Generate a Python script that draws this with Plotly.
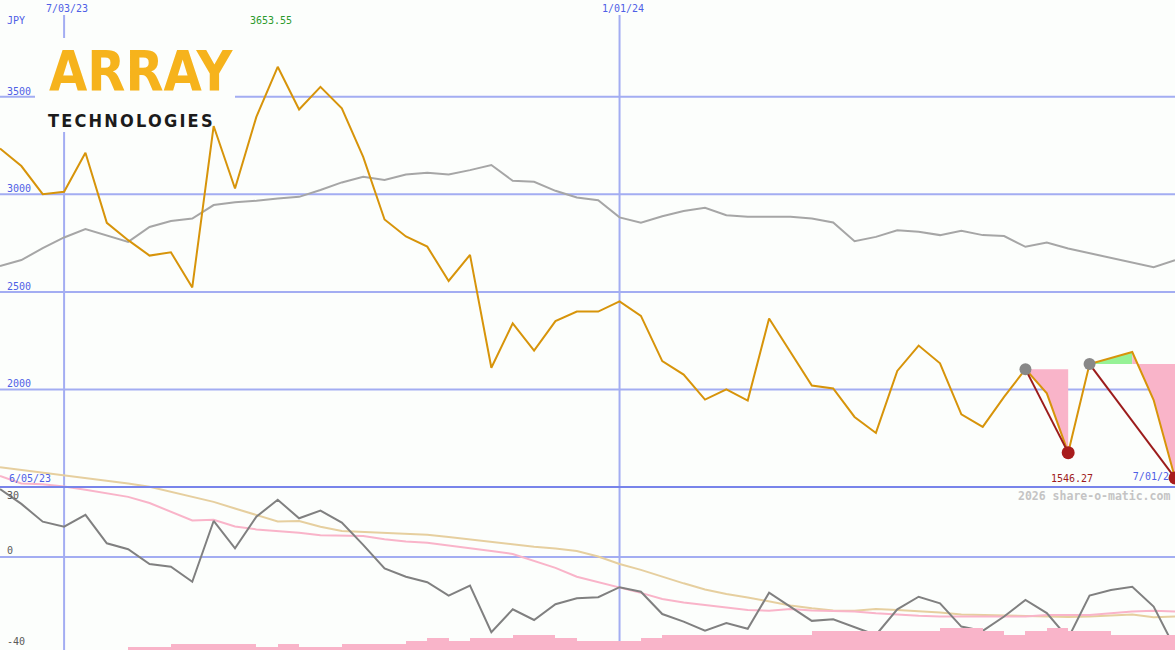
import pandas as pd
import plotly.graph_objects as go

# ---------------- data ----------------
dates = pd.date_range("2023-06-12", "2024-07-01", freq="W-MON")   # weekly closes

price = [3235, 3145, 3001, 3013, 3213, 2854, 2765, 2686, 2703, 2523,
         3350, 3030, 3397, 3653.55, 3435, 3551, 3441, 3192, 2871, 2784,
         2732, 2556, 2690, 2111, 2339, 2199, 2350, 2399, 2399, 2451,
         2377, 2145, 2076, 1948, 2001, 1943, 2364, 2194, 2020, 2005,
         1859, 1777, 2095, 2225, 2134, 1872, 1808, 1962, 2104, 1980,
         1676, 2130, 2160, 2192, 1946, 1546.27]

index_line = [2632, 2663, 2724, 2779, 2822, 2787, 2756, 2833, 2863, 2876,
              2945, 2959, 2967, 2979, 2987, 3022, 3061, 3090, 3073, 3102,
              3110, 3102, 3124, 3150, 3069, 3064, 3018, 2984, 2970, 2882,
              2854, 2888, 2915, 2931, 2893, 2885, 2885, 2885, 2876, 2856,
              2760, 2782, 2816, 2808, 2791, 2813, 2791, 2786, 2731, 2753,
              2722, 2698, 2673, 2652, 2627, 2663]

momentum = [29.8, 23.3, 15.5, 13.3, 18.5, 6.0, 3.4, -3.1, -4.3, -10.9,
            15.8, 3.8, 17.7, 25.1, 17.0, 20.4, 15.1, 5.3, -5.0, -8.7,
            -11.1, -17.0, -12.6, -33.1, -23.0, -27.7, -20.8, -18.2, -17.7, -13.3,
            -15.3, -25.1, -28.4, -32.4, -29.1, -31.6, -15.7, -22.0, -28.1, -27.4,
            -30.8, -34.3, -23.0, -17.5, -20.4, -30.6, -32.5, -26.2, -18.9, -24.7,
            -35.7, -17.0, -14.5, -13.1, -21.8, -40.1]

ma_slow = [39.4, 38.2, 37.1, 36.0, 34.9, 33.6, 32.3, 30.8, 28.6, 26.6,
           24.2, 21.3, 18.5, 15.6, 15.8, 13.3, 11.4, 11.0, 10.3, 9.9,
           9.7, 8.8, 7.7, 6.8, 5.7, 4.5, 3.7, 2.6, 0.2, -3.1,
           -5.7, -8.8, -11.6, -14.3, -16.3, -17.8, -19.6, -21.3, -22.6, -23.5,
           -23.7, -22.9, -23.3, -23.7, -24.4, -25.3, -25.5, -25.7, -25.9, -26.4,
           -26.4, -26.2, -25.7, -25.3, -26.5, -26.2]

ma_fast = [35.6, 32.3, 31.9, 31.0, 29.5, 28.1, 26.4, 23.7, 19.8, 16.0,
           16.3, 13.4, 12.1, 11.4, 10.6, 9.5, 9.3, 9.2, 7.8, 6.8,
           6.2, 5.1, 4.0, 2.6, 1.3, -1.8, -4.8, -8.7, -11.0, -13.3,
           -15.8, -18.5, -20.0, -21.1, -22.2, -23.3, -23.6, -22.9, -23.5, -23.7,
           -24.0, -24.8, -25.5, -25.9, -26.2, -26.2, -26.2, -26.2, -26.2, -25.5,
           -25.5, -25.5, -24.7, -24.0, -23.7, -24.0]

volume = [0, 0, 0, 0, 0, 0, 2.7, 2.7, 6, 6,
          6, 6, 2.7, 6, 2.7, 2.7, 6, 6, 6, 9,
          11.7, 9, 11.7, 11.7, 15, 15, 11.7, 9, 9, 9,
          11.7, 15, 15, 15, 15, 15, 15, 15, 19, 19,
          19, 19, 19, 19, 21.7, 21.7, 19, 15, 19, 21.7,
          19, 19, 15, 15, 15]

swing_high_idx = [48, 51]
swing_low_idx = [50, 55]

price_ticks = [2000, 2500, 3000, 3500]
osc_ticks = [30, 0, -40]
date_ticks = ["2023-07-03", "2024-01-01"]
currency = "JPY"
start_label = "6/05/23"
watermark = "2026 share-o-matic.com"

# ---------------- styles ----------------
W, H = 1175, 650
BG = "#fcfefc"
GRID = "#a3adf2"
SEP = "#7884ea"
BLUE = "#4f5fe6"
ORANGE = "#d7940a"
PINK = "#f9b4c9"
TAN = "#e6cf9f"
MONO = "DejaVu Sans Mono"
LOGO_FONT = "DejaVu Sans Condensed, Liberation Sans Narrow, sans-serif"

def px_x(p):
    return p / W

def px_y(p):
    return 1 - p / H

def fmt_date(d):
    d = pd.Timestamp(d)
    return f"{d.month}/{d.day:02d}/{d.year % 100:02d}"

fig = go.Figure()

# lower panel: volume bars + oscillator and its averages
fig.add_trace(go.Bar(x=dates[:-1], y=volume, width=7 * 86400000, offset=0,
                     marker=dict(color=PINK, line=dict(width=0)),
                     xaxis="x", yaxis="y3"))
fig.add_trace(go.Scatter(x=dates, y=ma_slow, mode="lines",
                         line=dict(color=TAN, width=2), xaxis="x", yaxis="y2"))
fig.add_trace(go.Scatter(x=dates, y=ma_fast, mode="lines",
                         line=dict(color=PINK, width=2), xaxis="x", yaxis="y2"))
fig.add_trace(go.Scatter(x=dates, y=momentum, mode="lines",
                         line=dict(color="#808080", width=2), xaxis="x", yaxis="y2"))

# main panel fills between swing high level and price
a, b = swing_high_idx[0], swing_low_idx[0]
ref1 = price[a]
fig.add_trace(go.Scatter(x=list(dates[a:b + 1]) + [dates[b], dates[a]],
                         y=price[a:b + 1] + [ref1, ref1], fill="toself",
                         fillcolor=PINK, line=dict(width=0), mode="lines",
                         xaxis="x", yaxis="y"))
c, e = swing_high_idx[1], swing_low_idx[1]
ref2 = price[c]
peak2 = c + 2
fig.add_trace(go.Scatter(x=list(dates[c:peak2 + 1]) + [dates[peak2], dates[c]],
                         y=price[c:peak2 + 1] + [ref2, ref2], fill="toself",
                         fillcolor="#96f296", line=dict(width=0), mode="lines",
                         xaxis="x", yaxis="y"))
fig.add_trace(go.Scatter(x=list(dates[peak2:e + 1]) + [dates[e], dates[peak2]],
                         y=price[peak2:e + 1] + [ref2, ref2], fill="toself",
                         fillcolor=PINK, line=dict(width=0), mode="lines",
                         xaxis="x", yaxis="y"))

fig.add_trace(go.Scatter(x=dates, y=index_line, mode="lines",
                         line=dict(color="#a6a6a6", width=2), xaxis="x", yaxis="y"))
fig.add_trace(go.Scatter(x=dates, y=price, mode="lines",
                         line=dict(color=ORANGE, width=2), xaxis="x", yaxis="y"))
# last-date label (sits under the final marker)
fig.add_trace(go.Scatter(x=[dates[-1]], y=[price[-1]], mode="text",
                         text=[fmt_date(dates[-1])], textposition="middle left",
                         textfont=dict(family=MONO, size=10, color=BLUE),
                         xaxis="x", yaxis="y"))
for hi, lo in zip(swing_high_idx, swing_low_idx):
    fig.add_trace(go.Scatter(x=[dates[hi], dates[lo]], y=[price[hi], price[lo]],
                             mode="lines", line=dict(color="#9c1c1c", width=2),
                             xaxis="x", yaxis="y"))
fig.add_trace(go.Scatter(x=[dates[i] for i in swing_high_idx],
                         y=[price[i] for i in swing_high_idx], mode="markers",
                         marker=dict(color="#888888", size=12, line=dict(width=0)),
                         xaxis="x", yaxis="y"))
fig.add_trace(go.Scatter(x=[dates[i] for i in swing_low_idx],
                         y=[price[i] for i in swing_low_idx], mode="markers",
                         marker=dict(color="#a81c1c", size=13, line=dict(width=0)),
                         xaxis="x", yaxis="y"))

shapes = []
for v in price_ticks:
    shapes.append(dict(type="line", xref="paper", yref="y", x0=0, x1=1, y0=v, y1=v,
                       line=dict(color=GRID, width=2), layer="below"))
shapes.append(dict(type="line", xref="paper", yref="y2", x0=0, x1=1, y0=0, y1=0,
                   line=dict(color=GRID, width=2), layer="below"))
for d in date_ticks:
    shapes.append(dict(type="line", xref="x", yref="paper", x0=d, x1=d,
                       y0=0, y1=px_y(15), line=dict(color=GRID, width=2), layer="below"))
# logo backdrop
shapes.append(dict(type="rect", xref="paper", yref="paper",
                   x0=px_x(35), x1=px_x(235), y0=px_y(132), y1=px_y(38),
                   fillcolor=BG, line=dict(width=0), layer="between"))
# panel separator
shapes.append(dict(type="line", xref="paper", yref="paper", x0=0, x1=1,
                   y0=px_y(487), y1=px_y(487), line=dict(color=SEP, width=2),
                   layer="above"))

ann = []
small = dict(family=MONO, size=10, color=BLUE)
ann.append(dict(text=currency, xref="paper", yref="paper", x=px_x(5), y=px_y(20),
                xanchor="left", yanchor="middle", showarrow=False, font=small))
for d in date_ticks:
    ann.append(dict(text=fmt_date(d), xref="x", yref="paper", x=d, y=px_y(8.5),
                    xanchor="center", yanchor="middle", xshift=3, showarrow=False,
                    font=small))
for v in price_ticks:
    ann.append(dict(text=str(v), xref="paper", yref="y", x=px_x(5), y=v, yshift=5.5,
                    xanchor="left", yanchor="middle", showarrow=False, font=small))
for v, sh in zip(osc_ticks, [-7, 6, 6]):
    ann.append(dict(text=str(v), xref="paper", yref="y2", x=px_x(5), y=v, yshift=sh,
                    xanchor="left", yanchor="middle", showarrow=False,
                    font=dict(family=MONO, size=10, color="#5a5a5a")))
imax = price.index(max(price))
ann.append(dict(text=f"{max(price):.2f}", xref="x", yref="paper", x=dates[imax],
                y=px_y(20), xanchor="center", yanchor="middle", xshift=-7,
                showarrow=False, font=dict(family=MONO, size=10, color="#2c9a2c")))
ann.append(dict(text=start_label, xref="paper", yref="paper", x=px_x(7), y=px_y(478.3),
                xanchor="left", yanchor="middle", showarrow=False, font=small))
ann.append(dict(text=f"{min(price):.2f}", xref="paper", yref="paper", x=px_x(1071.5),
                y=px_y(478), xanchor="center", yanchor="middle", showarrow=False,
                font=dict(family=MONO, size=10, color="#a01c1c")))
ann.append(dict(text=f"<b>{watermark}</b>", xref="paper", yref="paper", x=px_x(1172),
                y=px_y(495.7), xanchor="right", yanchor="middle", showarrow=False,
                font=dict(family=MONO, size=11.5, color="#c4c4c4")))
# logo
ann.append(dict(text="<b>ARRAY</b>", xref="paper", yref="paper", x=px_x(47),
                y=px_y(71), xanchor="left", yanchor="middle", showarrow=False,
                font=dict(family=LOGO_FONT, size=55, color="#f6b31c")))
ann.append(dict(text='<b><span style="letter-spacing:2.2px">TECHNOLOGIES</span></b>',
                xref="paper", yref="paper", x=px_x(46), y=px_y(120),
                xanchor="left", yanchor="middle", showarrow=False,
                font=dict(family=LOGO_FONT, size=18, color="#1b1b1b")))

fig.update_layout(
    width=W, height=H, margin=dict(l=0, r=0, t=0, b=0),
    paper_bgcolor=BG, plot_bgcolor="rgba(0,0,0,0)", showlegend=False,
    xaxis=dict(range=[dates[0], dates[-1]], showgrid=False, zeroline=False,
               showticklabels=False, ticks="", showline=False, anchor="y"),
    yaxis=dict(domain=[px_y(487), 1], range=[1500, 3996], showgrid=False,
               zeroline=False, showticklabels=False, ticks="", anchor="x"),
    yaxis2=dict(domain=[0, px_y(460)], range=[-40.9, 42.6], showgrid=False,
                zeroline=False, showticklabels=False, ticks="", anchor="x"),
    yaxis3=dict(overlaying="y2", range=[0, 190], showgrid=False, zeroline=False,
                showticklabels=False, ticks="", anchor="x"),
    shapes=shapes, annotations=ann, bargap=0,
)

fig.write_html("out.html", config={"displayModeBar": False},
               post_script="document.body.style.margin='0';document.body.style.overflow='hidden';")
